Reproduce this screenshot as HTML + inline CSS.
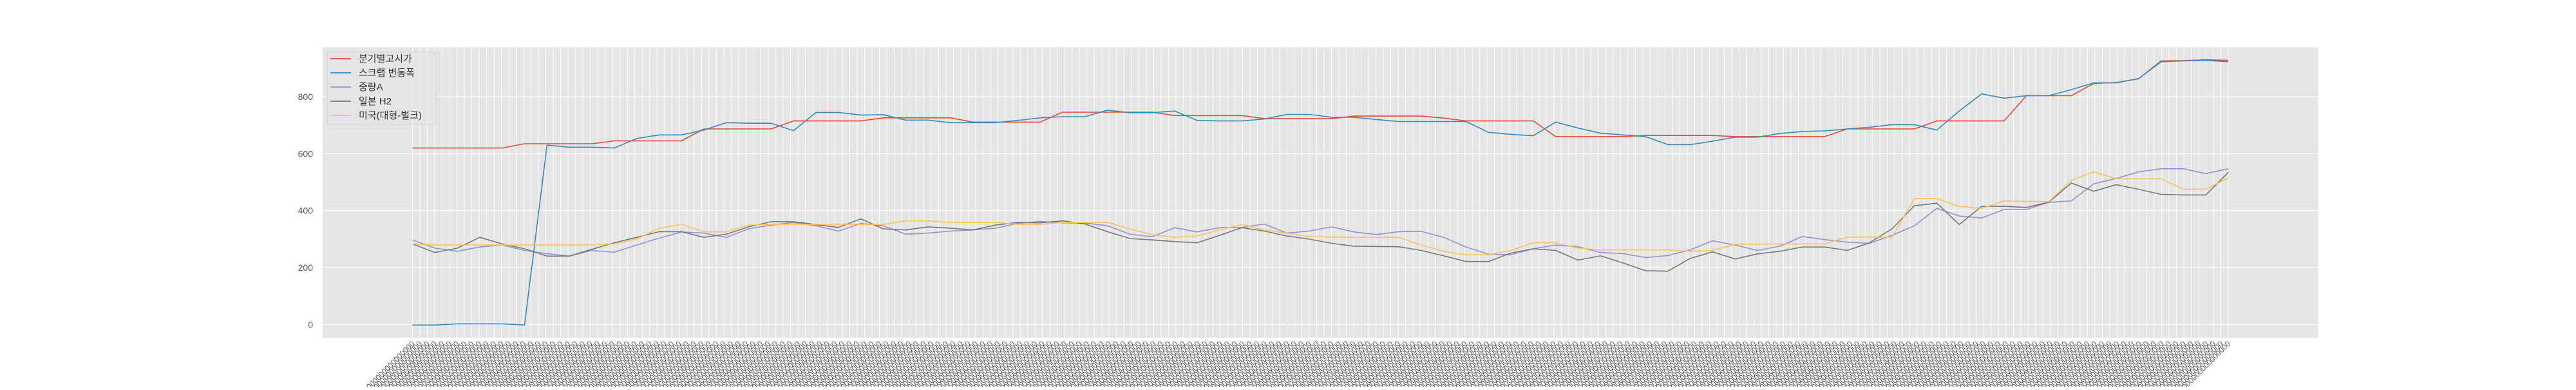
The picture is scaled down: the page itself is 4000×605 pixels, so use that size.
<!DOCTYPE html>
<html><head><meta charset="utf-8">
<style>
html,body{margin:0;padding:0;background:#fff;}
body{width:4000px;height:600px;overflow:hidden;font-family:"Liberation Sans","Noto Sans CJK KR",sans-serif;}
</style></head>
<body>
<svg id="chart" width="4000" height="600" xmlns="http://www.w3.org/2000/svg" style="font-family:'Liberation Sans','Noto Sans CJK KR',sans-serif">
<rect x="501" y="73.3" width="3099" height="450.7" fill="#e5e5e5"/>
<g id="grid"></g>
<g id="yticks"></g>
<g id="xticks"></g>
<g id="series"></g>
<g id="legend"></g>
</svg>
<script>
const seriesNames = ["분기별고시가","스크랩 변동폭","중량A","일본 H2","미국(대형-벌크)"];
const seriesColors = ["#E24A33","#348ABD","#988ED5","#777777","#FBC15E"];
const yTicks = [0,200,400,600,800];
const nCategories = 246;
const red = [620,620,620,620,620,635,635,635,635,645,645,645,645,687,687,687,687,715,715,715,715,
 726,726,726,726,711,711,711,711,746,746,746,746,746,734,734,734,734,723,723,723,
 723,732,732,732,732,725,715,715,715,715,660,660,660,660,664,664,664,664,660,660,
 660,660,660,687,687,687,687,715,715,715,715,804,804,804,847,850,863,926,927,930,928];
const blue = [-2,-2,2,2,2,-2,630,623,623,620,653,666,666,683,709,707,707,681,745,745,736,
 737,718,718,709,709,709,717,726,730,730,753,744,744,750,717,715,715,722,738,738,
 728,728,720,713,713,713,713,675,668,663,711,690,672,666,660,632,632,644,658,658,
 671,678,680,687,693,702,702,683,750,810,795,804,804,825,849,849,864,923,926,928,923];
const purple = [297,268,257,272,279,260,249,240,260,254,279,303,325,321,306,336,349,358,347,328,355,
 347,317,321,328,332,338,355,362,357,356,347,317,308,340,325,340,341,353,321,328,
 343,325,316,326,327,306,272,247,245,266,279,273,253,249,235,242,262,294,279,260,
 275,309,298,289,285,313,347,408,381,374,404,404,429,434,494,513,536,547,547,530,547];
const gray = [283,253,268,306,283,266,240,240,264,287,306,326,326,306,317,343,361,361,351,341,371,
 336,332,343,338,332,349,358,357,364,353,326,302,297,291,287,313,340,328,311,300,
 285,275,274,273,260,241,221,221,251,266,260,226,241,216,189,187,232,255,230,248,
 257,272,272,260,287,336,417,426,351,415,415,411,430,497,468,491,475,457,455,455,534];
const orange = [283,279,279,279,279,279,279,279,280,283,300,338,352,325,325,349,352,352,352,352,352,
 351,364,364,358,358,358,352,352,358,358,358,336,315,306,311,332,351,332,321,309,
 307,306,306,306,279,257,245,245,260,287,287,268,262,262,262,262,257,260,282,282,
 283,283,283,307,307,307,442,442,415,408,434,432,432,506,536,512,512,512,475,475,515];
const seriesValues = [red, blue, purple, gray, orange];

const NS = "http://www.w3.org/2000/svg";
const plotL = 501, plotR = 3600, plotT = 73.3, plotB = 524;
const dataL = 640.5, dataR = 3460;
const yMin = -46.9, yMax = 974;
function yScale(v){ return plotB - (v - yMin) / (yMax - yMin) * (plotB - plotT); }
function catX(i){ return dataL + i * (dataR - dataL) / (nCategories - 1); }
function dataX(k, n){ return dataL + k * (dataR - dataL) / (n - 1); }
function mk(tag, attrs, parent){ const e = document.createElementNS(NS, tag); for (const a in attrs) e.setAttribute(a, attrs[a]); parent.appendChild(e); return e; }

const grid = document.getElementById('grid');
for (let i = 0; i < nCategories; i++) {
  const x = catX(i);
  const l = mk('line', {x1:x, x2:x, y1:plotT, y2:plotB, stroke:'#ffffff', 'stroke-width':1}, grid);
  
  
}
const yt = document.getElementById('yticks');
yTicks.forEach(v => {
  const y = yScale(v);
  const l = mk('line', {x1:plotL, x2:plotR, y1:y, y2:y, stroke:'#ffffff', 'stroke-width':1.2}, grid);
  
  
  const t = mk('text', {x:486, y:y+5, 'text-anchor':'end', 'font-size':14, fill:'#555555'}, yt);
  t.textContent = String(v);
  
  
});
const xt = document.getElementById('xticks');
for (let i = 0; i < nCategories; i++) {
  const x = catX(i) + 4;
  const t = mk('text', {x:x, y:534, 'text-anchor':'end', 'font-size':12, fill:'#555555', transform:'rotate(-45 '+x+' 534)'}, xt);
  t.textContent = '0.000000000000000';
  
  
}
const sg = document.getElementById('series');
seriesValues.forEach((vals, s) => {
  const pts = vals.map((v, k) => dataX(k, vals.length).toFixed(1) + ',' + yScale(v).toFixed(1)).join(' ');
  const p = mk('polyline', {points:pts, fill:'none', stroke:seriesColors[s], 'stroke-width':1.6, 'stroke-linejoin':'round'}, sg);
  
  
});
const lg = document.getElementById('legend');
const box = mk('rect', {x:508, y:80.7, width:169, height:112, rx:3, fill:'#e5e5e5', stroke:'#d0d0d0', 'stroke-width':1, 'fill-opacity':0.8}, lg);


seriesNames.forEach((n, s) => {
  const y = 91 + s * 22;
  const l = mk('line', {x1:513, x2:545, y1:y, y2:y, stroke:seriesColors[s], 'stroke-width':1.8}, lg);
  
  
  const t = mk('text', {x:557, y:y+5, 'font-size':15, fill:'#333333'}, lg);
  t.textContent = n;
  
  
});
</script>
</body></html>
